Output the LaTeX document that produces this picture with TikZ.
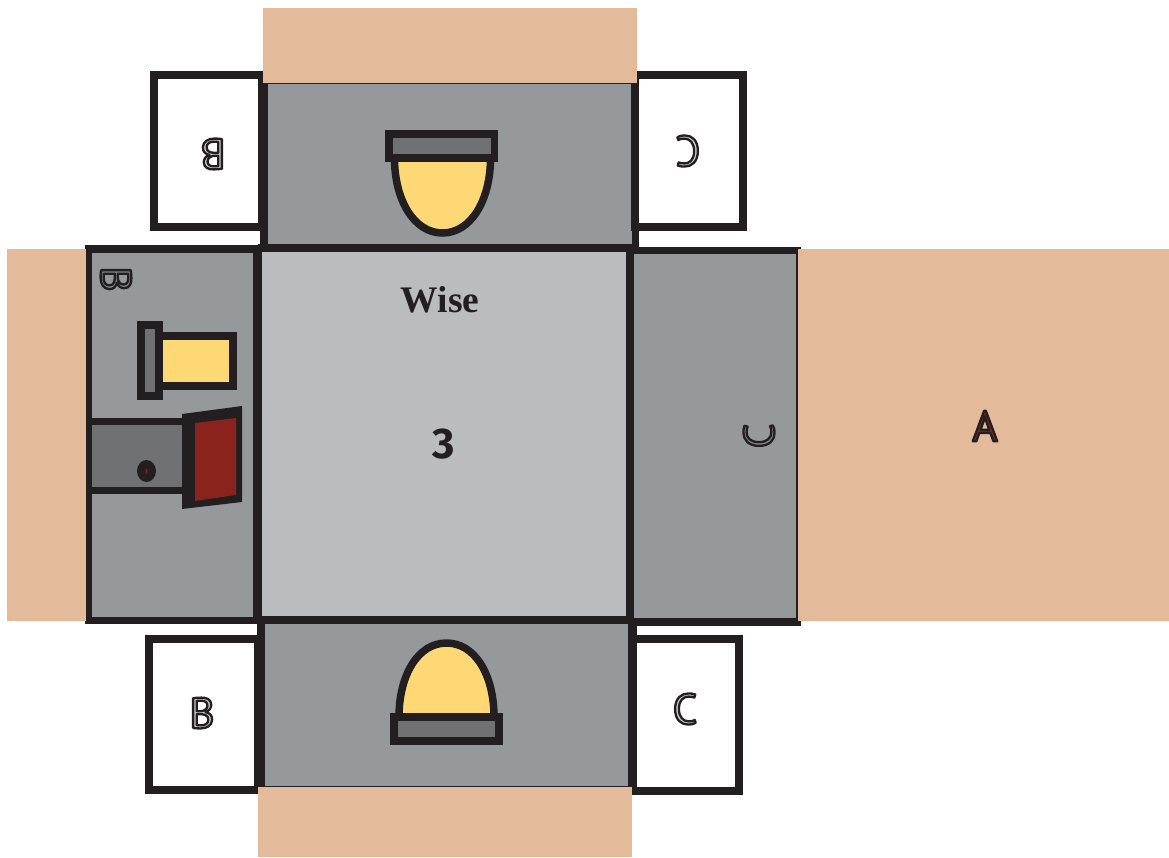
\documentclass[tikz,border=0pt]{standalone}
\usepackage{fontspec}
\setmainfont{PT Sans}
\newfontfamily\wisefont{Liberation Serif}
\newfontfamily\numfont{Fira Sans}
\definecolor{peach}{HTML}{E3BB9B}
\definecolor{panel}{HTML}{96999C}
\definecolor{centre}{HTML}{BBBCBE}
\definecolor{ink}{HTML}{231F20}
\definecolor{seat}{HTML}{707173}
\definecolor{skin}{HTML}{FFD876}
\definecolor{door}{HTML}{8A231D}
\newcommand{\outlinedletter}[2]{\special{pdf:code q 2 Tr 2.3 w 1 j 0.137 0.122 0.125 RG #1 rg}#2\special{pdf:code Q}}
\tikzset{
  wall/.style={draw=ink,line width=8pt},
  sidebox/.style={draw=ink,fill=white,line width=8pt},
  seatbox/.style={draw=ink,fill=seat,line width=7.5pt},
  skinbox/.style={draw=ink,fill=skin,line width=7.5pt},
  letter/.style={inner sep=0pt,font=\fontsize{43}{43}\selectfont},
}
\begin{document}
\begin{tikzpicture}[x=1pt,y=-1pt]
\useasboundingbox (0,0) rectangle (1169,857);
% grey panels
\fill[panel] (262,84) rectangle (635,247);
\fill[panel] (262,621) rectangle (632,786);
\fill[panel] (89,249) rectangle (258,621);
\fill[panel] (630,249) rectangle (797,621);
\fill[centre] (258,248) rectangle (630,620);
% door in the left panel
\fill[seat] (89,422) rectangle (186,490);
\draw[draw=ink,line width=7pt] (89,421.5) -- (186,421.5);
\draw[draw=ink,line width=7pt] (89,490.5) -- (186,490.5);
% thin edges
\draw[draw=ink,line width=1pt] (265,83.5) -- (635,83.5);
\draw[draw=ink,line width=1pt] (262,786) -- (632,786);
\draw[draw=ink,line width=2.5pt] (797,249) -- (797,621);
% side boxes
\draw[sidebox] (154,75) rectangle (262,226.5);
\draw[sidebox] (635,75) rectangle (743,227);
\draw[sidebox] (149,639) rectangle (258,790);
\draw[sidebox] (633,638.5) rectangle (739,791);
% walls
\draw[wall,line width=6pt] (89,246) -- (89,624);
\draw[wall,line width=9pt] (257.5,245) -- (257.5,621);
\draw[wall] (630,244) -- (630,621);
\draw[wall] (85,249) -- (258,249);
\draw[wall] (258,248) -- (638,248);
\draw[wall,line width=7pt] (630,250.5) -- (801,250.5);
\draw[wall,line width=7pt] (85,620.5) -- (258,620.5);
\draw[wall] (258,619.5) -- (630,619.5);
\draw[wall] (630,621.5) -- (801,621.5);
\draw[wall] (264,84) -- (264,248);
\draw[wall,line width=7pt] (635.5,80) -- (635.5,248);
\draw[wall] (261,621) -- (261,790);
\draw[wall,line width=9pt] (632.5,621) -- (632.5,790);
% peach flaps lie over the ends of the boxes and lines
\fill[peach] (263,8) rectangle (637,83);
\fill[peach] (7,249) rectangle (86,621);
\fill[peach] (798,249) rectangle (1169,621);
\fill[peach] (258,787) rectangle (632,857);
% top figure
\draw[skinbox] (394.5,158) .. controls (394.5,200) and (414,233) .. (442.5,233) .. controls (471,233) and (490.5,200) .. (490.5,158);
\draw[seatbox] (389,134) rectangle (494.5,158);
% bottom figure
\draw[skinbox] (399,717) .. controls (399,675) and (418,643) .. (446.5,643) .. controls (475,643) and (494,675) .. (494,717);
\draw[seatbox] (394,717) rectangle (499,741);
% left figure
\draw[draw=ink,fill=skin,line width=7.5pt] (159,336) rectangle (233,386);
\draw[seatbox] (141,325) rectangle (159,396);
% door leaf and handle
\fill[ink] (146.5,471) ellipse [x radius=9.5,y radius=11];
\fill[door] (146.5,471) ellipse [x radius=1,y radius=2.5];
\fill[ink] (182,414) -- (242,406) -- (242,502) -- (182,509) -- cycle;
\fill[door] (195,423) -- (236,418) -- (236,495) -- (195,501) -- cycle;
% text
\node[inner sep=0pt,text=ink,font=\wisefont\bfseries\fontsize{37.5}{37.5}\selectfont] (wise) at (440,300) {Wise};
\node[inner sep=0pt,text=ink,font=\numfont\bfseries\fontsize{43}{43}\selectfont] (num) at (444,444) {3};
\node[letter] (la) at (985,426) {\outlinedletter{0.54 0.14 0.11}{A}};
\node[letter] (lbb) at (202,713) {\outlinedletter{0.8 0.8 0.8}{B}};
\node[letter] (lcb) at (685,709) {\outlinedletter{0.8 0.8 0.8}{C}};
\node[letter,rotate=180] (lbt) at (213,154) {\outlinedletter{0.8 0.8 0.8}{B}};
\node[letter,rotate=180] (lct) at (688,151) {\outlinedletter{0.8 0.8 0.8}{C}};
\node[letter,rotate=-90] (lbl) at (116,279) {\outlinedletter{0.5 0.51 0.52}{B}};
\node[letter,rotate=90] (lcr) at (759,436) {\outlinedletter{0.5 0.51 0.52}{C}};
\end{tikzpicture}
\end{document}
